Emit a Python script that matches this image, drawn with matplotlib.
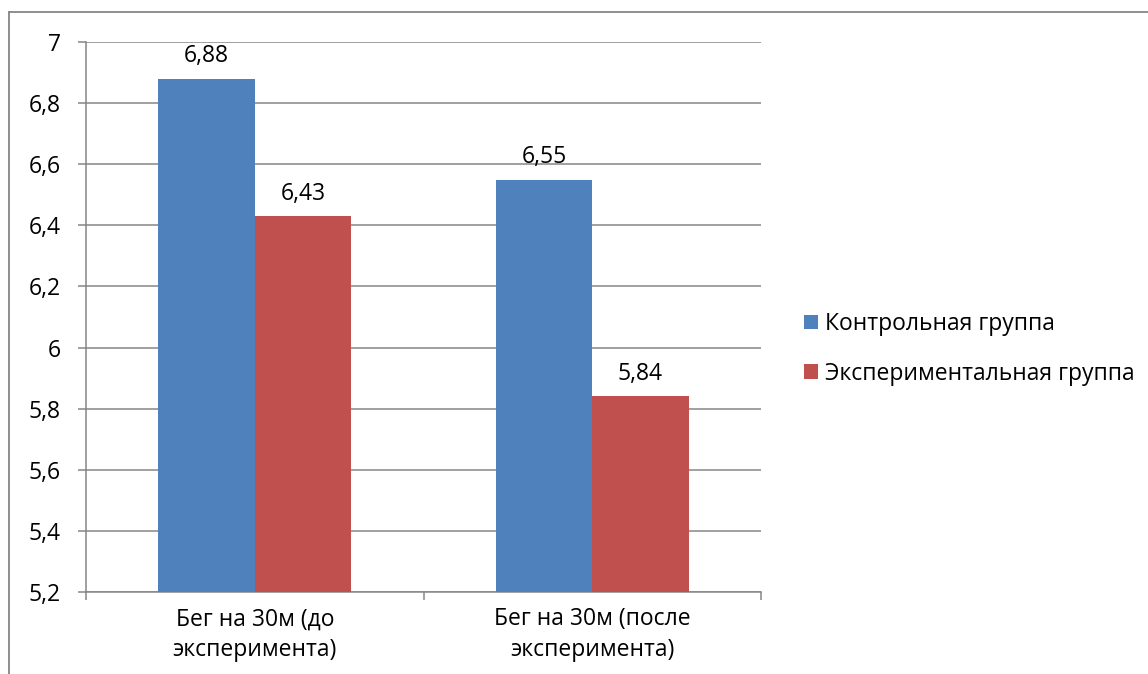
import matplotlib
matplotlib.use("Agg")
import matplotlib.pyplot as plt
from matplotlib.lines import Line2D
from matplotlib.ticker import FuncFormatter, MultipleLocator

categories = ["Бег на 30м (до\nэксперимента)", "Бег на 30м (после\nэксперимента)"]
series_names = ["Контрольная группа", "Экспериментальная группа"]
control = [6.88, 6.55]
experiment = [6.43, 5.84]
colors = ["#4F81BD", "#C0504D"]
GRID = "#868686"
FS = 16.5

plt.rcParams["font.family"] = ["Open Sans", "DejaVu Sans"]

W, H = 1148, 674
fig = plt.figure(figsize=(W / 100, H / 100), dpi=100)
ax = fig.add_axes([86 / W, (H - 592) / H, (761 - 86) / W, (592 - 42) / H])

w = 96.4 / 337.5
xs = range(len(categories))
for i, (vals, name) in enumerate(zip([control, experiment], series_names)):
    pos = [x + (i - 0.5) * w for x in xs]
    bars = ax.bar(pos, vals, width=w, color=colors[i], label=name, zorder=3)
    for b, v in zip(bars, vals):
        ax.annotate(f"{v:.2f}".replace(".", ","),
                    (b.get_x() + b.get_width() / 2, v),
                    xytext=(0, 16), textcoords="offset points",
                    ha="center", va="center", fontsize=FS, color="black")


def comma_fmt(v, _):
    if abs(v - round(v)) < 1e-9:
        return f"{int(round(v))}"
    return f"{v:.1f}".replace(".", ",")


ax.set_ylim(5.2, 7.0)
ax.set_xlim(-0.5, len(categories) - 0.5)
ax.yaxis.set_major_locator(MultipleLocator(0.2))
ax.yaxis.set_major_formatter(FuncFormatter(comma_fmt))
ax.grid(axis="y", color=GRID, linewidth=1.1, zorder=0)
ax.set_axisbelow(True)

ax.set_xticks(list(xs))
ax.set_xticklabels(categories, fontsize=FS, linespacing=1.4)
ax.set_xticks([x - 0.5 for x in range(len(categories) + 1)], minor=True)
ax.tick_params(axis="x", which="major", length=0, pad=11)
ax.tick_params(axis="x", which="minor", length=6, color=GRID, width=1.1)
ax.tick_params(axis="y", length=6, color=GRID, width=1.1, labelsize=FS, pad=12)

for s in ["top", "right"]:
    ax.spines[s].set_visible(False)
for s in ["left", "bottom"]:
    ax.spines[s].set_color(GRID)
    ax.spines[s].set_linewidth(1.1)

ax.legend(loc="center left", bbox_to_anchor=(795 / W, (H - 349) / H),
          bbox_transform=fig.transFigure, frameon=False, fontsize=FS,
          handlelength=0.6, handleheight=0.6, handletextpad=0.3,
          labelspacing=1.12, borderaxespad=0)

# chart area frame, clipped at right and bottom like the original
fig.add_artist(Line2D([9 / W, 9 / W], [0, 1 - 12 / H], color=GRID, lw=1.3,
                      transform=fig.transFigure))
fig.add_artist(Line2D([9 / W, 1], [1 - 12 / H, 1 - 12 / H], color=GRID, lw=1.3,
                      transform=fig.transFigure))

fig.savefig("out.png", dpi=100)
